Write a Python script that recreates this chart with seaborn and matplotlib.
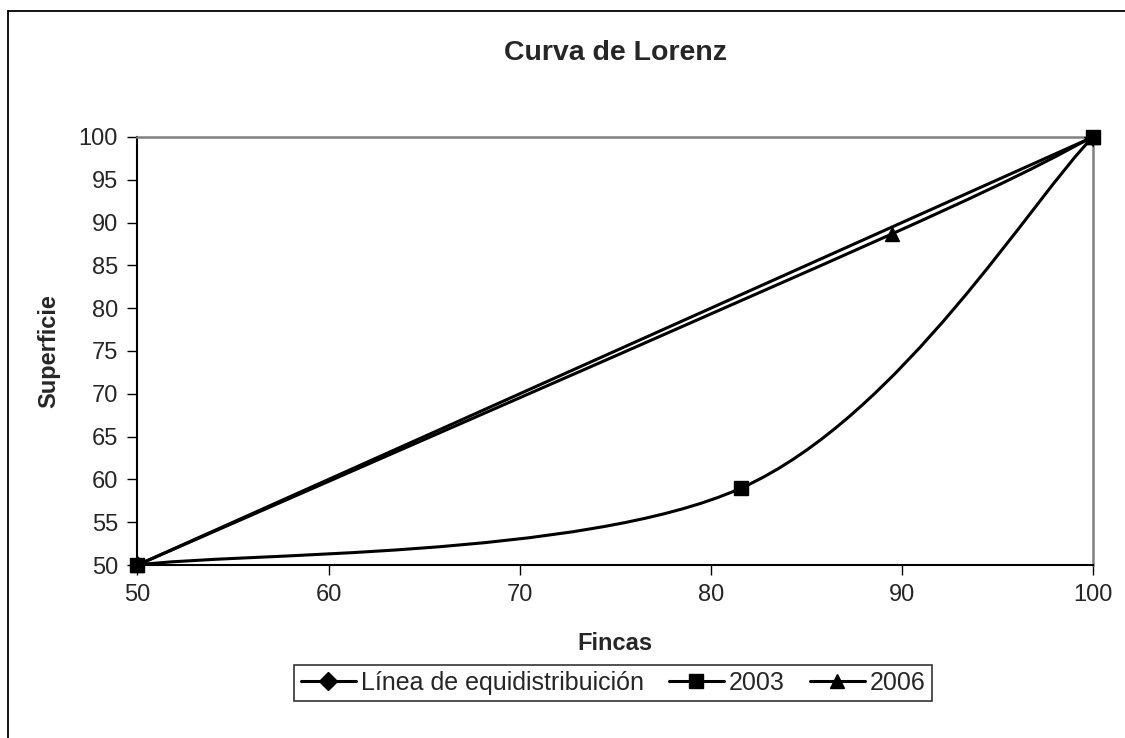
import numpy as np
import pandas as pd
import matplotlib
matplotlib.use("Agg")
import matplotlib.pyplot as plt
from matplotlib.path import Path
from matplotlib.patches import PathPatch
from matplotlib.lines import Line2D
import seaborn as sns

# data
equi_x = [50, 100]
equi_y = [50, 100]
x_2003 = [50, 81.6, 100]
y_2003 = [50, 59, 100]
x_2006 = [50, 89.5, 100]
y_2006 = [50, 88.7, 100]
xticks = [50, 60, 70, 80, 90, 100]
yticks = [50, 55, 60, 65, 70, 75, 80, 85, 90, 95, 100]

sns.set_style("white")
plt.rcParams['font.family'] = ['Liberation Sans', 'DejaVu Sans']


def smooth_path(xs, ys):
    # excel style smoothed line: bezier segments, control points from neighbours
    p = np.column_stack([xs, ys]).astype(float)
    n = len(p)
    verts = [p[0]]
    codes = [Path.MOVETO]
    for i in range(n - 1):
        prev = p[i - 1] if i > 0 else p[i]
        nxt = p[i + 2] if i + 2 < n else p[i + 1]
        c1 = p[i] + (p[i + 1] - prev) / 6
        c2 = p[i + 1] - (nxt - p[i]) / 6
        verts += [c1, c2, p[i + 1]]
        codes += [Path.CURVE4] * 3
    return Path(verts, codes)


fig = plt.figure(figsize=(11.25, 7.38), dpi=100)
ax = fig.add_axes([0.1222, 0.2344, 0.8494, 0.58])

lw = 2.2
df_equi = pd.DataFrame({"x": equi_x, "y": equi_y})
sns.lineplot(data=df_equi, x="x", y="y", ax=ax, color="black", lw=lw,
             marker="D", markersize=9, markeredgecolor="black", zorder=3)

for xs, ys, mk in [(x_2003, y_2003, "s"), (x_2006, y_2006, "^")]:
    ax.add_patch(PathPatch(smooth_path(xs, ys), fc="none", ec="black",
                           lw=lw, zorder=4, capstyle="round"))
    ax.plot(xs, ys, ls="none", marker=mk, ms=10, color="black", zorder=5,
            clip_on=False)

ax.set_xlim(50, 100)
ax.set_ylim(50, 100)
ax.set_xticks(xticks)
ax.set_yticks(yticks)
ax.set_xlabel("")
ax.set_ylabel("")
ax.tick_params(axis="both", labelsize=17, direction="out", length=7,
               width=1, color="black", pad=7, bottom=True, left=True)

for s in ["left", "bottom"]:
    ax.spines[s].set_color("black")
    ax.spines[s].set_linewidth(1.5)
for s in ["top", "right"]:
    ax.spines[s].set_color("#808080")
    ax.spines[s].set_linewidth(1.8)

fig.text(615 / 1125, 1 - 53 / 738, "Curva de Lorenz", ha="center",
         va="center", fontsize=20.5, fontweight="bold")
fig.text(615 / 1125, 1 - 643 / 738, "Fincas", ha="center", va="center",
         fontsize=17, fontweight="bold")
fig.text(49 / 1125, 1 - 351 / 738, "Superficie", ha="center", va="center",
         fontsize=17, fontweight="bold", rotation=90)

handles = [
    Line2D([], [], color="black", lw=lw, marker="D", ms=9),
    Line2D([], [], color="black", lw=lw, marker="s", ms=10),
    Line2D([], [], color="black", lw=lw, marker="^", ms=10),
]
labels = ["Línea de equidistribuición", "2003", "2006"]
leg = fig.legend(handles, labels, loc="center", ncol=3,
                 bbox_to_anchor=(613 / 1125, 1 - 683 / 738),
                 bbox_transform=fig.transFigure, fontsize=18, frameon=True,
                 fancybox=False, edgecolor="black", handlelength=2.2,
                 handletextpad=0.2, columnspacing=1.0, borderpad=0.25,
                 borderaxespad=0)
leg.get_frame().set_linewidth(1.2)

# outer chart border (only left and top visible)
fig.add_artist(Line2D([7.5 / 1125, 7.5 / 1125], [0, 1 - 10.5 / 738],
                      transform=fig.transFigure, color="black", lw=1.3))
fig.add_artist(Line2D([7.5 / 1125, 1], [1 - 10.5 / 738, 1 - 10.5 / 738],
                      transform=fig.transFigure, color="black", lw=1.3))

fig.savefig("out.png", dpi=100)
